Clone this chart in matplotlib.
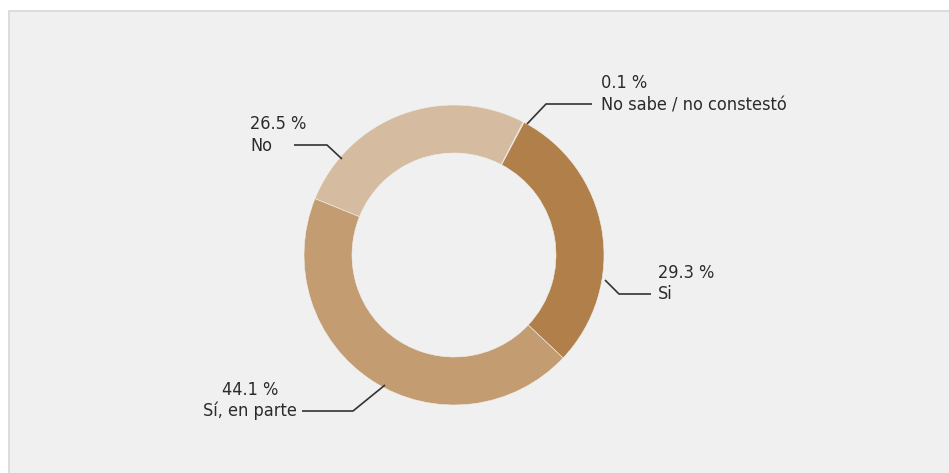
import matplotlib
matplotlib.use("Agg")
import matplotlib.pyplot as plt
import matplotlib.font_manager as fm
from matplotlib.patches import Rectangle

# ---- data ----
categories = ["No sabe / no constestó", "Si", "Sí, en parte", "No"]
values = [0.1, 29.3, 44.1, 26.5]
pct_labels = ["0.1 %", "29.3 %", "44.1 %", "26.5 %"]
colors = ["#ebe2d8", "#b07f4a", "#c49c72", "#d5bb9f"]

# ---- pick a condensed font if one is installed ----
fonts = fm.fontManager.ttflist
fp = fm.FontProperties(family=["Roboto", "DejaVu Sans"], size=12)
for pref in ["Liberation Sans Narrow", "DejaVu Sans", "Roboto Condensed", "Open Sans Condensed"]:
    hit = [f for f in fonts if f.name == pref and
           ("condensed" in f.stretch or "narrow" in f.fname.lower() or "condensed" in f.fname.lower())]
    hit = [f for f in hit if f.weight in (400, "normal", "regular") and f.style == "normal"]
    if hit:
        fp = fm.FontProperties(fname=hit[0].fname, size=13)
        break

# ---- figure ----
W, H = 949, 473
DPI = 100
fig = plt.figure(figsize=(W / DPI, H / DPI), dpi=DPI)
fig.patch.set_facecolor("white")


def fig_rect(x0, y0, x1, y1, color):
    fig.patches.append(Rectangle((x0 / W, 1 - y1 / H), (x1 - x0) / W, (y1 - y0) / H,
                                 transform=fig.transFigure, facecolor=color,
                                 edgecolor="none", zorder=-10))


fig_rect(8, 10, W + 5, H + 5, "#dcdcdc")
fig_rect(10, 12, W + 5, H + 5, "#eff0ef")

ax = fig.add_axes([0, 0, 1, 1])
ax.set_facecolor("none")

CX, CY, S = 454, 255, 150.0  # pixel centre and pixels per unit


def P(x, y):
    return ((x - CX) / S, (CY - y) / S)


ax.pie(values, colors=colors, startangle=62.5, counterclock=False,
       radius=1.0, wedgeprops=dict(width=0.32, edgecolor="#eff0ef", linewidth=0.4))
ax.set_aspect("auto")
ax.set_xlim(-CX / S, (W - CX) / S)
ax.set_ylim((CY - H) / S, CY / S)
ax.axis("off")

tc = "#2b2b2b"


def leader(pts):
    xs, ys = zip(*[P(*p) for p in pts])
    ax.plot(xs, ys, color="#333333", lw=1.2, solid_capstyle="butt", zorder=5)


def label(x, y, s, ha="left"):
    return ax.text(*P(x, y), s, ha=ha, va="baseline", color=tc, fontproperties=fp)


# No sabe / no constestó
leader([(527, 124), (546, 104), (592, 104)])
label(601, 88, pct_labels[0])
label(601, 110, categories[0])

# Si
leader([(605, 280), (619, 294), (651, 294)])
label(658, 278, pct_labels[1])
label(658, 299, categories[1])

# Sí, en parte  (block right edge at the leader end, lines centred on each other)
leader([(385, 385), (353, 411), (302, 411)])
t = label(297, 416, categories[2], ha="right")
renderer = fig.canvas.get_renderer()
bb = t.get_window_extent(renderer=renderer)
cx_px = (bb.x0 + bb.x1) / 2.0
label(cx_px, 395, pct_labels[2], ha="center")

# No
leader([(342, 159), (327, 145), (294, 145)])
label(250, 129, pct_labels[3])
label(250, 151, categories[3])

fig.savefig("out.png", dpi=DPI, facecolor=fig.get_facecolor())
